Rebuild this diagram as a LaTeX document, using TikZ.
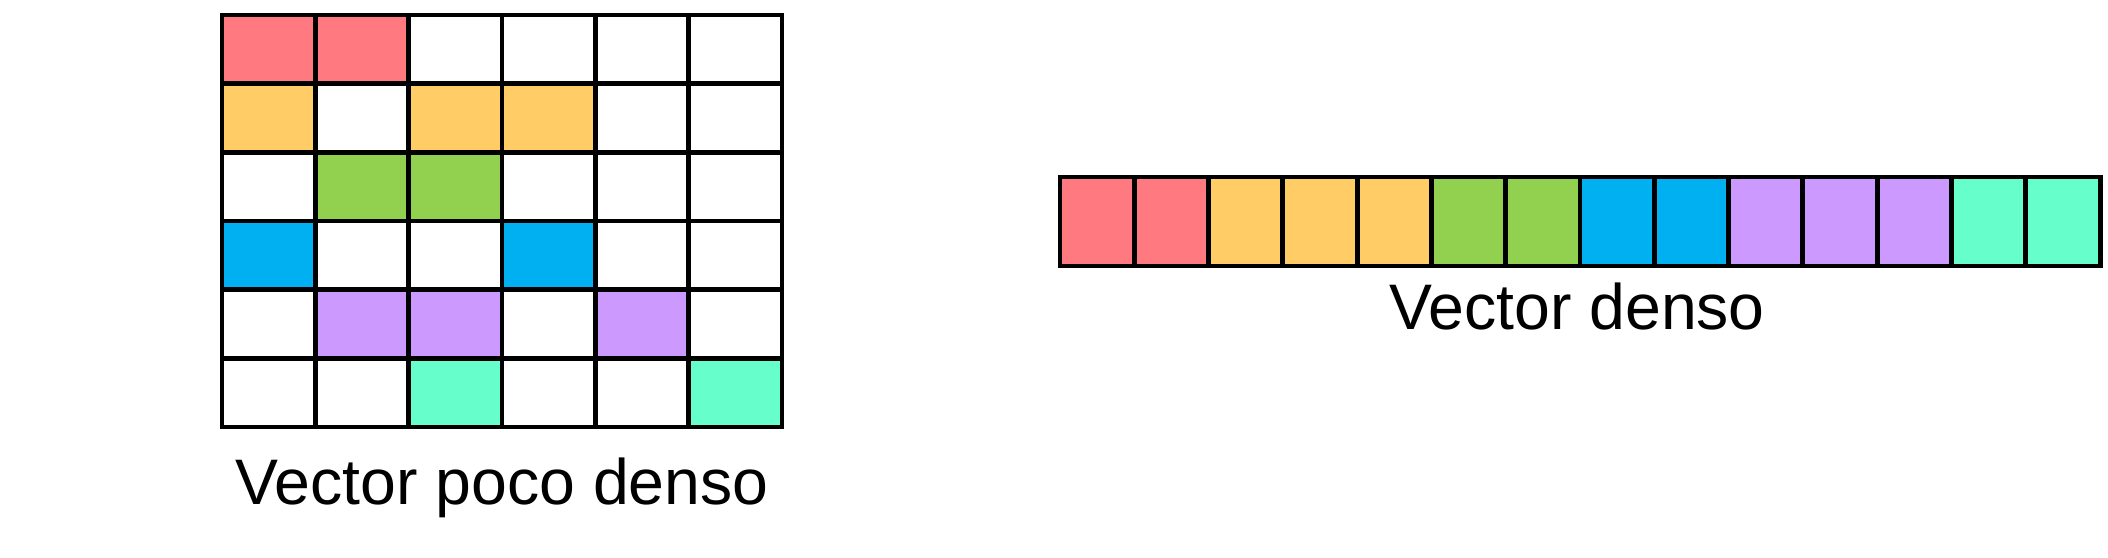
\documentclass[tikz,border=0pt]{standalone}
\usepackage{fontspec}
\setmainfont{Liberation Sans}
\usetikzlibrary{positioning}

\definecolor{vred}{HTML}{FF7A80}
\definecolor{vora}{HTML}{FFCC66}
\definecolor{vgrn}{HTML}{92D050}
\definecolor{vblu}{HTML}{00B0F0}
\definecolor{vpur}{HTML}{CC99FF}
\definecolor{vtea}{HTML}{66FFCC}
\colorlet{vwht}{white}

\tikzset{
	cell/.style={draw=black,line width=1.4pt,inner sep=0pt,
		minimum width=0.9333cm,minimum height=0.6867cm,fill=#1},
	dcell/.style={draw=black,line width=1.4pt,inner sep=0pt,
		minimum width=0.7429cm,minimum height=0.89cm,fill=#1},
	caption/.style={anchor=base,font=\fontsize{18.3}{22}\selectfont}
}

\begin{document}
\begin{tikzpicture}[x=0.01cm,y=-0.01cm]
\useasboundingbox (0,0) rectangle (2108,558);

% matriz poco densa
\foreach \row [count=\r from 0] in {
	{vred,vred,vwht,vwht,vwht,vwht},
	{vora,vwht,vora,vora,vwht,vwht},
	{vwht,vgrn,vgrn,vwht,vwht,vwht},
	{vblu,vwht,vwht,vblu,vwht,vwht},
	{vwht,vpur,vpur,vwht,vpur,vwht},
	{vwht,vwht,vtea,vwht,vwht,vtea}}{
	\foreach \col [count=\c from 0] in \row
		\node[cell=\col](s-\r-\c) at ({222+93.33*(\c+0.5)},{15+68.67*(\r+0.5)}) {};
}

% vector denso
\foreach \col [count=\i from 0] in {vred,vred,vora,vora,vora,vgrn,vgrn,
	vblu,vblu,vpur,vpur,vpur,vtea,vtea}
	\node[dcell=\col](d-\i) at ({1060+74.29*(\i+0.5)},221.5) {};

\node[caption](sparse) at (502,505) {Vector poco denso};
\node[caption](dense) at (1577,330) {Vector denso};

\end{tikzpicture}
\end{document}
